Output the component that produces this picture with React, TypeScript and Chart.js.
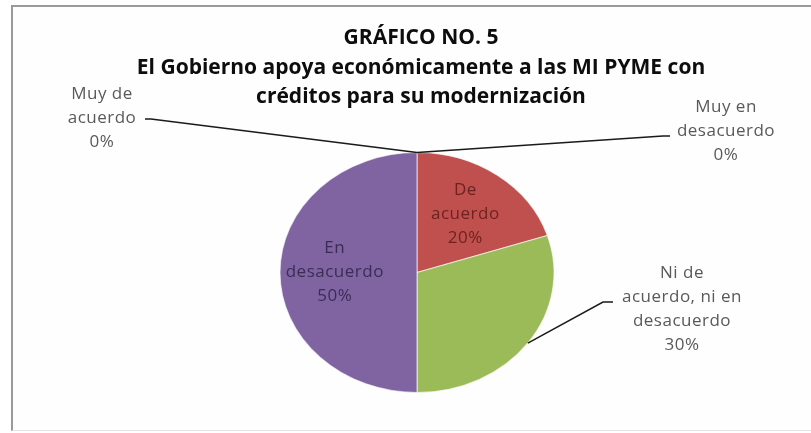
import React, { useEffect, useRef } from "react";
import { Chart, registerables } from "chart.js";

Chart.register(...registerables);

const titleLines = [
  "GRÁFICO NO. 5",
  "El Gobierno apoya económicamente a las MI PYME con",
  "créditos para su modernización",
];
const categories = [
  "Muy de acuerdo",
  "De acuerdo",
  "Ni de acuerdo, ni en desacuerdo",
  "En desacuerdo",
  "Muy en desacuerdo",
];
const values = [0, 20, 30, 50, 0];
const labelLines = [
  ["Muy de", "acuerdo"],
  ["De", "acuerdo"],
  ["Ni de", "acuerdo, ni en", "desacuerdo"],
  ["En", "desacuerdo"],
  ["Muy en", "desacuerdo"],
];
const sliceColors = ["#4F81BD", "#C0504D", "#9BBB59", "#8064A2", "#4BACC6"];
const insideTextColors = ["#2a3f5f", "#6e2220", "#4a5e25", "#3b2c55", "#215968"];

// layout for outside labels: text center x, first line y, leader elbow and end
const outsideLayout: Record<number, { tx: number; ty: number; ex: number; ey: number; lx: number }> = {
  0: { tx: 102, ty: 94, ex: 151, ey: 119, lx: 145 },
  2: { tx: 682, ty: 273, ex: 603, ey: 302, lx: 613 },
  4: { tx: 726, ty: 107, ex: 663, ey: 136, lx: 670 },
};
const insideIdx = [1, 3];

const SX = 137 / 120;
const LABEL_FONT = "17px 'Open Sans'";
const LINE_H = 24;

const ellipsePlugin = {
  id: "ellipse",
  beforeDatasetsDraw(chart: any) {
    const arc = chart.getDatasetMeta(0).data[0];
    const ctx = chart.ctx;
    ctx.save();
    ctx.translate(arc.x, arc.y);
    ctx.scale(SX, 1);
    ctx.translate(-arc.x, -arc.y);
  },
  afterDatasetsDraw(chart: any) {
    chart.ctx.restore();
  },
};

const textPlugin = {
  id: "texts",
  afterDraw(chart: any) {
    const ctx = chart.ctx;
    const total = values.reduce((a, b) => a + b, 0);
    // title
    ctx.save();
    ctx.fillStyle = "#0d0d0d";
    ctx.font = "bold 21px 'Open Sans'";
    ctx.textAlign = "center";
    ctx.textBaseline = "middle";
    const tys = [38, 68, 97];
    titleLines.forEach((t, i) => ctx.fillText(t, 421, tys[i]));
    ctx.restore();

    const arcs = chart.getDatasetMeta(0).data;
    arcs.forEach((arc: any, i: number) => {
      const p = arc.getProps(["x", "y", "startAngle", "endAngle", "outerRadius"], true);
      const mid = (p.startAngle + p.endAngle) / 2;
      const pct = Math.round((values[i] / total) * 100) + "%";
      const lines = [...labelLines[i], pct];
      ctx.save();
      ctx.font = LABEL_FONT;
      try {
        (ctx as any).letterSpacing = "0.5px";
      } catch (e) {}
      ctx.textAlign = "center";
      ctx.textBaseline = "middle";
      if (insideIdx.includes(i)) {
        const cx = p.x + Math.cos(mid) * p.outerRadius * 0.6 * SX;
        const cy = p.y + Math.sin(mid) * p.outerRadius * 0.6;
        ctx.fillStyle = insideTextColors[i];
        const y0 = cy - ((lines.length - 1) * LINE_H) / 2;
        lines.forEach((l, k) => ctx.fillText(l, cx, y0 + k * LINE_H));
      } else {
        const lay = outsideLayout[i];
        const sx = p.x + Math.cos(mid) * p.outerRadius * SX;
        const sy = p.y + Math.sin(mid) * p.outerRadius;
        ctx.strokeStyle = "#1a1a1a";
        ctx.lineWidth = 1.5;
        ctx.beginPath();
        ctx.moveTo(sx, sy);
        ctx.lineTo(lay.ex, lay.ey);
        ctx.lineTo(lay.lx, lay.ey);
        ctx.stroke();
        ctx.fillStyle = "#595959";
        lines.forEach((l, k) => ctx.fillText(l, lay.tx, lay.ty + k * LINE_H));
      }
      ctx.restore();
    });
  },
};

export default function App() {
  const ref = useRef<HTMLCanvasElement>(null);
  useEffect(() => {
    if (!ref.current) return;
    const chart = new Chart(ref.current, {
      type: "pie",
      data: {
        labels: categories,
        datasets: [
          {
            data: values,
            backgroundColor: sliceColors,
            borderColor: "rgba(255,255,255,0.6)",
            borderWidth: 1,
            hoverOffset: 0,
          },
        ],
      },
      options: {
        responsive: false,
        animation: false,
        devicePixelRatio: 1,
        events: [],
        layout: { padding: { left: 150, right: 127, top: 152, bottom: 40 } },
        plugins: {
          legend: { display: false },
          title: { display: false },
          tooltip: { enabled: false },
        },
      },
      plugins: [ellipsePlugin, textPlugin],
    });
    return () => chart.destroy();
  }, []);
  return (
    <div
      style={{
        position: "fixed",
        left: 0,
        top: 0,
        width: 811,
        height: 433,
        overflow: "hidden",
        background: "#fff",
      }}
    >
      <div
        style={{
          position: "absolute",
          left: 11,
          top: 5,
          width: 810,
          height: 423,
          borderLeft: "2px solid #9a9a9a",
          borderTop: "2px solid #9a9a9a",
          borderBottom: "1px solid #e4e4e4",
          background: "#fefefe",
        }}
      />
      <canvas
        ref={ref}
        width={811}
        height={433}
        style={{ position: "absolute", left: 0, top: 0, width: 811, height: 433 }}
      />
    </div>
  );
}
